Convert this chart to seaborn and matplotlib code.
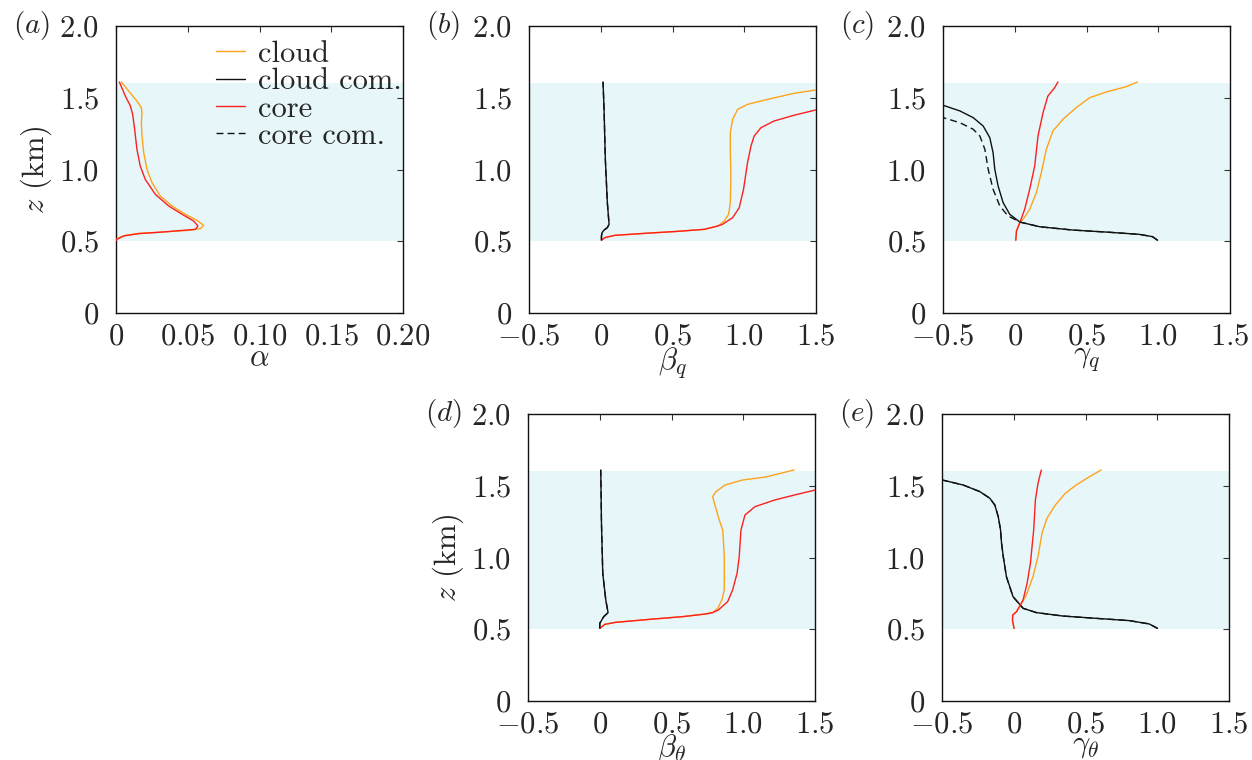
import matplotlib
matplotlib.use("Agg")
import matplotlib.pyplot as plt
from matplotlib.lines import Line2D
import pandas as pd
import seaborn as sns

# ---------------- profile data: height z (km) and coefficient value ----------------
# (a) alpha
a_cloud_z = [0.509, 0.525, 0.541, 0.555, 0.564, 0.576, 0.588, 0.611, 0.646, 0.688, 0.746, 0.815,
             0.908, 1.001, 1.117, 1.233, 1.326, 1.396, 1.431, 1.477, 1.547, 1.610]
a_cloud_v = [0.0, 0.0019, 0.0065, 0.0158, 0.0321, 0.0506, 0.0588, 0.0611, 0.0564, 0.0483, 0.039, 0.0309,
             0.0251, 0.0216, 0.0193, 0.0181, 0.0177, 0.0181, 0.0177, 0.0146, 0.0088, 0.0037]
a_core_z = [0.505, 0.513, 0.537, 0.553, 0.564, 0.583, 0.606, 0.641, 0.688, 0.746, 0.827, 0.931,
            1.024, 1.140, 1.280, 1.385, 1.443, 1.512, 1.610]
a_core_v = [0.0, 0.0007, 0.0053, 0.0158, 0.0321, 0.0553, 0.0571, 0.0541, 0.046, 0.0367, 0.0274, 0.0204,
            0.0169, 0.0146, 0.013, 0.0116, 0.010, 0.0065, 0.0023]

# (b) beta_q
bq_cloud_z = [0.507, 0.525, 0.541, 0.555, 0.569, 0.583, 0.606, 0.641, 0.688, 0.769, 0.955, 1.117,
              1.257, 1.350, 1.419, 1.454, 1.494, 1.531, 1.554]
bq_cloud_v = [0.005, 0.028, 0.097, 0.306, 0.537, 0.722, 0.815, 0.861, 0.891, 0.903, 0.907, 0.903,
              0.903, 0.919, 0.954, 1.023, 1.185, 1.347, 1.498]
bq_cloudcom_z = [0.507, 0.537, 0.560, 0.578, 0.595, 0.618, 0.769, 1.071, 1.419, 1.610]
bq_cloudcom_v = [0.005, 0.005, 0.009, 0.023, 0.046, 0.058, 0.046, 0.032, 0.023, 0.016]
bq_core_z = [0.507, 0.525, 0.541, 0.555, 0.569, 0.583, 0.606, 0.618, 0.664, 0.734, 0.862, 1.048,
             1.164, 1.233, 1.291, 1.338, 1.378, 1.415]
bq_core_v = [0.005, 0.028, 0.097, 0.306, 0.537, 0.722, 0.815, 0.849, 0.919, 0.965, 0.995, 1.023,
             1.047, 1.069, 1.116, 1.208, 1.347, 1.498]
bq_corecom_z = [0.507, 0.537, 0.560, 0.578, 0.595, 0.618, 0.769, 1.071, 1.419, 1.610]
bq_corecom_v = [0.005, 0.005, 0.009, 0.023, 0.046, 0.058, 0.046, 0.032, 0.023, 0.016]

# (c) gamma_q
gq_cloud_z = [0.507, 0.571, 0.629, 0.653, 0.722, 0.839, 0.978, 1.140, 1.268, 1.350, 1.431, 1.500,
              1.540, 1.577, 1.610]
gq_cloud_v = [0.007, 0.012, 0.035, 0.058, 0.104, 0.151, 0.185, 0.220, 0.266, 0.336, 0.428, 0.521,
              0.637, 0.776, 0.856]
gq_cloudcom_z = [0.507, 0.532, 0.548, 0.564, 0.578, 0.601, 0.634, 0.688, 0.769, 0.885, 1.001, 1.117,
                 1.222, 1.303, 1.361, 1.408, 1.447]
gq_cloudcom_v = [0.995, 0.960, 0.868, 0.637, 0.405, 0.174, 0.035, -0.035, -0.081, -0.116, -0.139, -0.151,
                 -0.174, -0.220, -0.289, -0.382, -0.498]
gq_core_z = [0.507, 0.571, 0.629, 0.722, 0.862, 1.024, 1.233, 1.396, 1.512, 1.570, 1.610]
gq_core_v = [0.007, 0.012, 0.035, 0.069, 0.104, 0.139, 0.162, 0.197, 0.231, 0.278, 0.301]
gq_corecom_z = [0.507, 0.532, 0.548, 0.564, 0.578, 0.601, 0.634, 0.641, 0.676, 0.746, 0.862, 1.001,
                1.140, 1.233, 1.280, 1.326, 1.361]
gq_corecom_v = [0.995, 0.960, 0.868, 0.637, 0.405, 0.174, 0.035, 0.023, -0.047, -0.104, -0.151, -0.185,
                -0.208, -0.243, -0.289, -0.382, -0.498]

# (d) beta_theta
bt_cloud_z = [0.506, 0.534, 0.548, 0.569, 0.588, 0.606, 0.616, 0.646, 0.704, 0.774, 1.006, 1.192,
              1.261, 1.378, 1.424, 1.459, 1.505, 1.540, 1.561, 1.610]
bt_cloud_v = [0.0, 0.035, 0.109, 0.347, 0.579, 0.734, 0.787, 0.822, 0.851, 0.868, 0.868, 0.857,
              0.833, 0.799, 0.787, 0.810, 0.873, 0.995, 1.157, 1.354]
bt_cloudcom_z = [0.506, 0.541, 0.588, 0.616, 0.704, 0.890, 1.238, 1.610]
bt_cloudcom_v = [0.0, 0.0, 0.028, 0.058, 0.042, 0.021, 0.012, 0.007]
bt_core_z = [0.506, 0.534, 0.548, 0.569, 0.588, 0.606, 0.616, 0.634, 0.692, 0.774, 0.890, 1.006,
             1.192, 1.296, 1.354, 1.401, 1.436, 1.470]
bt_core_v = [0.0, 0.035, 0.109, 0.347, 0.579, 0.734, 0.787, 0.826, 0.891, 0.926, 0.957, 0.972,
             0.984, 1.012, 1.081, 1.220, 1.359, 1.500]
bt_corecom_z = [0.506, 0.541, 0.588, 0.616, 0.704, 0.890, 1.238, 1.610]
bt_corecom_v = [0.0, 0.0, 0.028, 0.058, 0.042, 0.021, 0.012, 0.007]

# (e) gamma_theta
gt_cloud_z = [0.506, 0.564, 0.599, 0.622, 0.657, 0.739, 0.866, 1.006, 1.169, 1.273, 1.366, 1.447,
              1.505, 1.559, 1.610]
gt_cloud_v = [0.002, -0.009, -0.007, 0.019, 0.042, 0.088, 0.134, 0.169, 0.197, 0.231, 0.290, 0.359,
              0.435, 0.521, 0.609]
gt_cloudcom_z = [0.506, 0.537, 0.560, 0.576, 0.592, 0.616, 0.646, 0.727, 0.866, 1.006, 1.099, 1.192,
                 1.284, 1.366, 1.413, 1.459, 1.505, 1.540]
gt_cloudcom_v = [1.002, 0.944, 0.806, 0.574, 0.343, 0.158, 0.065, -0.005, -0.051, -0.073, -0.085, -0.092,
                 -0.108, -0.132, -0.167, -0.236, -0.352, -0.498]
gt_core_z = [0.506, 0.564, 0.599, 0.622, 0.704, 0.820, 0.960, 1.192, 1.401, 1.517, 1.610]
gt_core_v = [0.002, -0.009, -0.007, 0.019, 0.065, 0.093, 0.116, 0.139, 0.151, 0.169, 0.192]
gt_corecom_z = [0.506, 0.537, 0.560, 0.576, 0.592, 0.616, 0.646, 0.727, 0.866, 1.006, 1.099, 1.192,
                1.284, 1.366, 1.413, 1.459, 1.505, 1.540]
gt_corecom_v = [1.002, 0.944, 0.806, 0.574, 0.343, 0.158, 0.065, -0.005, -0.051, -0.073, -0.085, -0.092,
                -0.108, -0.132, -0.167, -0.236, -0.352, -0.498]

# ---------------- axis ticks ----------------
z_ticks = [0, 0.5, 1.0, 1.5, 2.0]
z_ticklabels = ["0", "0.5", "1.0", "1.5", "2.0"]
alpha_ticks = [0, 0.05, 0.10, 0.15, 0.20]
alpha_ticklabels = ["0", "0.05", "0.10", "0.15", "0.20"]
coef_ticks = [-0.5, 0, 0.5, 1.0, 1.5]
coef_ticklabels = ["-0.5", "0", "0.5", "1.0", "1.5"]

layer_bottom, layer_top = 0.5, 1.6

series_labels = ["cloud", "cloud com.", "core", "core com."]

# ---------------- style ----------------
sns.set_style("white")
plt.rcParams.update({
    "font.family": "serif",
    "font.serif": ["cmr10", "DejaVu Serif"],
    "mathtext.fontset": "cm",
    "axes.unicode_minus": False,
    "font.size": 22,
})

COLORS = {"cloud": "#ffa31a", "cloud com.": "#111111", "core": "#ff1f1f", "core com.": "#111111"}
DASHES = {"cloud": "-", "cloud com.": "-", "core": "-", "core com.": (0, (5, 3))}
SHADE = "#e6f6f9"

fig = plt.figure(figsize=(12.52, 7.60), dpi=100)

W, H = 1252.0, 760.0
def make_axes(left_px, top_px, size_px=287.0):
    return fig.add_axes([left_px / W, 1 - (top_px + size_px) / H, size_px / W, size_px / H])

ax_a = make_axes(116, 26)
ax_b = make_axes(529, 26)
ax_c = make_axes(943, 26)
ax_d = make_axes(528, 414)
ax_e = make_axes(942, 414)


def tex(s):
    return "$" + s + "$"


def draw_panel(ax, series, xlim, xticks, xticklabels, xlabel, tag, ylabel=False):
    ax.axhspan(layer_bottom, layer_top, color=SHADE, lw=0, zorder=0)
    for name, (zs, vs) in series:
        df = pd.DataFrame({"v": vs, "z": zs})
        sns.lineplot(data=df, x="v", y="z", sort=False, estimator=None, ax=ax,
                     color=COLORS[name], linestyle=DASHES[name], lw=1.0, zorder=3)
    ax.set_xlim(*xlim)
    ax.set_ylim(0, 2.0)
    ax.set_xticks(xticks)
    ax.set_xticklabels([tex(t) for t in xticklabels])
    ax.set_yticks(z_ticks)
    ax.set_yticklabels([tex(t) for t in z_ticklabels])
    ax.tick_params(direction="in", length=4, width=0.8, top=True, right=True,
                   labelsize=22, color="#333333")
    ax.tick_params(axis="y", pad=12)
    ax.tick_params(axis="x", pad=7)
    for sp in ax.spines.values():
        sp.set_linewidth(1.0)
        sp.set_color("#111111")
    ax.set_xlabel(xlabel, fontsize=22, labelpad=-4)
    if ylabel:
        ax.set_ylabel(r"$z$ (km)", fontsize=22, labelpad=4)
    else:
        ax.set_ylabel("")
    ax.text(-0.36, 1.0, tag, transform=ax.transAxes, fontsize=21, ha="left", va="center")
    ax.grid(False)


draw_panel(ax_a, [("cloud", (a_cloud_z, a_cloud_v)), ("core", (a_core_z, a_core_v))],
           (0, 0.20), alpha_ticks, alpha_ticklabels, r"$\alpha$", r"$(a)$", ylabel=True)
draw_panel(ax_b, [("cloud", (bq_cloud_z, bq_cloud_v)), ("cloud com.", (bq_cloudcom_z, bq_cloudcom_v)),
                  ("core", (bq_core_z, bq_core_v)), ("core com.", (bq_corecom_z, bq_corecom_v))],
           (-0.5, 1.5), coef_ticks, coef_ticklabels, r"$\beta_q$", r"$(b)$")
draw_panel(ax_c, [("cloud", (gq_cloud_z, gq_cloud_v)), ("cloud com.", (gq_cloudcom_z, gq_cloudcom_v)),
                  ("core", (gq_core_z, gq_core_v)), ("core com.", (gq_corecom_z, gq_corecom_v))],
           (-0.5, 1.5), coef_ticks, coef_ticklabels, r"$\gamma_q$", r"$(c)$")
draw_panel(ax_d, [("cloud", (bt_cloud_z, bt_cloud_v)), ("cloud com.", (bt_cloudcom_z, bt_cloudcom_v)),
                  ("core", (bt_core_z, bt_core_v)), ("core com.", (bt_corecom_z, bt_corecom_v))],
           (-0.5, 1.5), coef_ticks, coef_ticklabels, r"$\beta_\theta$", r"$(d)$", ylabel=True)
draw_panel(ax_e, [("cloud", (gt_cloud_z, gt_cloud_v)), ("cloud com.", (gt_cloudcom_z, gt_cloudcom_v)),
                  ("core", (gt_core_z, gt_core_v)), ("core com.", (gt_corecom_z, gt_corecom_v))],
           (-0.5, 1.5), coef_ticks, coef_ticklabels, r"$\gamma_\theta$", r"$(e)$")

handles = [Line2D([], [], color=COLORS[n], linestyle=DASHES[n], lw=1.0) for n in series_labels]
leg = ax_a.legend(handles, series_labels, loc="upper left", bbox_to_anchor=(0.35, 0.95),
                  frameon=False, fontsize=22, handlelength=0.95, handletextpad=0.4,
                  labelspacing=0.0, borderpad=0, borderaxespad=0)
leg.set_zorder(5)

fig.savefig("out.png", dpi=100)
